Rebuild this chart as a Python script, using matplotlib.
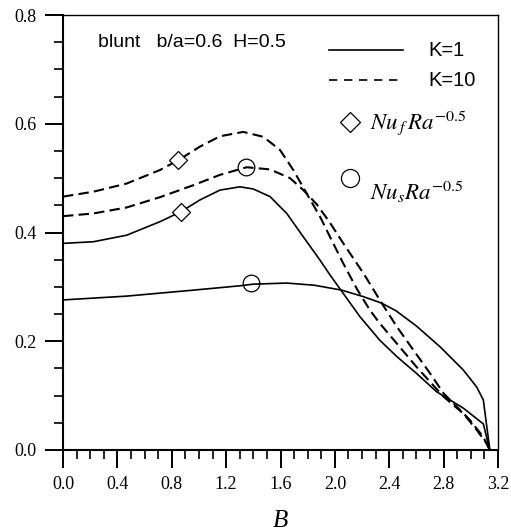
import matplotlib
matplotlib.use("Agg")
import matplotlib.pyplot as plt
from matplotlib.lines import Line2D

plt.rcParams['mathtext.fontset'] = 'stix'

# Nu_f Ra^-0.5, K=1 (solid)
b_f1 = [0, 0.223, 0.468, 0.714, 0.866, 1.008, 1.155, 1.302, 1.40, 1.523, 1.646, 1.768,
        1.891, 1.964, 2.05, 2.185, 2.33, 2.455, 2.60, 2.749, 2.945, 3.092, 3.14]
nu_f1 = [0.380, 0.383, 0.395, 0.420, 0.438, 0.460, 0.478, 0.484, 0.480, 0.466, 0.435, 0.392,
         0.349, 0.322, 0.292, 0.245, 0.202, 0.172, 0.141, 0.107, 0.077, 0.048, 0.0]

# Nu_s Ra^-0.5, K=1 (solid)
b_s1 = [0, 0.468, 0.959, 1.302, 1.40, 1.646, 1.85, 2.05, 2.21, 2.345, 2.45, 2.6, 2.773,
        2.945, 3.043, 3.092, 3.14]
nu_s1 = [0.276, 0.283, 0.294, 0.302, 0.305, 0.307, 0.303, 0.294, 0.282, 0.270, 0.256, 0.228,
         0.190, 0.147, 0.116, 0.092, 0.0]

# Nu_f Ra^-0.5, K=10 (dashed)
b_f10 = [0, 0.223, 0.468, 0.714, 0.848, 1.008, 1.155, 1.326, 1.473, 1.596, 1.694, 1.792,
         1.891, 1.964, 2.062, 2.16, 2.258, 2.33, 2.455, 2.60, 2.80, 2.945, 3.043, 3.117, 3.14]
nu_f10 = [0.466, 0.475, 0.490, 0.515, 0.533, 0.558, 0.577, 0.585, 0.576, 0.552, 0.515, 0.472,
          0.429, 0.392, 0.343, 0.297, 0.257, 0.233, 0.196, 0.153, 0.098, 0.067, 0.037, 0.012, 0.0]

# Nu_s Ra^-0.5, K=10 (dashed)
b_s10 = [0, 0.223, 0.468, 0.714, 0.959, 1.155, 1.351, 1.523, 1.670, 1.768, 1.866, 1.964,
         2.062, 2.21, 2.345, 2.455, 2.577, 2.70, 2.80, 2.896, 2.994, 3.092, 3.14]
nu_s10 = [0.430, 0.435, 0.446, 0.465, 0.487, 0.506, 0.520, 0.516, 0.500, 0.478, 0.452, 0.418,
          0.380, 0.325, 0.270, 0.227, 0.184, 0.141, 0.104, 0.080, 0.055, 0.024, 0.0]

# marker positions
diamond_b = [0.866, 0.848]
diamond_nu = [0.438, 0.533]
circle_b = [1.385, 1.345]
circle_nu = [0.307, 0.520]

fig = plt.figure(figsize=(5.11, 5.31), dpi=100)
ax = fig.add_axes([63/511, 81/531, 435/511, 435/531])

ax.plot(b_f1, nu_f1, color='black', lw=1.2)
ax.plot(b_s1, nu_s1, color='black', lw=1.2)
ax.plot(b_f10, nu_f10, color='black', lw=1.5, dashes=(5, 2.5))
ax.plot(b_s10, nu_s10, color='black', lw=1.5, dashes=(5, 2.5))

ax.plot(diamond_b, diamond_nu, ls='none', marker='D', ms=9.5, mfc='white', mec='black', mew=0.9)
ax.plot(circle_b, circle_nu, ls='none', marker='o', ms=12, mfc='none', mec='black', mew=0.9)

ax.set_xlim(0, 3.2)
ax.set_ylim(0, 0.8)
ax.set_xticks([0, 0.4, 0.8, 1.2, 1.6, 2.0, 2.4, 2.8, 3.2])
ax.set_xticks([i / 10 for i in range(33)], minor=True)
ax.set_yticks([0, 0.2, 0.4, 0.6, 0.8])
ax.set_yticks([i * 0.05 for i in range(17)], minor=True)
ax.set_xticklabels(['0.0', '0.4', '0.8', '1.2', '1.6', '2.0', '2.4', '2.8', '3.2'])
ax.set_yticklabels(['0.0', '0.2', '0.4', '0.6', '0.8'])

ax.tick_params(which='major', direction='out', length=13, width=1.4, labelsize=13, pad=6)
ax.tick_params(which='minor', direction='out', length=6.5, width=1.2)
for lab in ax.get_xticklabels() + ax.get_yticklabels():
    lab.set_family('Liberation Serif')

ax.spines['left'].set_linewidth(1.5)
ax.spines['bottom'].set_linewidth(1.5)
ax.spines['top'].set_linewidth(1.0)
ax.spines['right'].set_linewidth(1.0)

ax.set_xlabel('B', family='Liberation Serif', style='italic', fontsize=18, labelpad=12)

ax.text(0.08, 0.936, 'blunt   b/a=0.6  H=0.5', transform=ax.transAxes,
        family='Liberation Sans', fontsize=14, va='center')

ax.add_line(Line2D([0.611, 0.782], [0.92, 0.92], transform=ax.transAxes, color='black', lw=1.2))
ax.add_line(Line2D([0.611, 0.782], [0.851, 0.851], transform=ax.transAxes, color='black', lw=1.2,
                   dashes=(5, 4)))
ax.text(0.839, 0.918, 'K=1', transform=ax.transAxes, family='Liberation Sans', fontsize=14.5, va='center')
ax.text(0.839, 0.849, 'K=10', transform=ax.transAxes, family='Liberation Sans', fontsize=14.5, va='center')

ax.plot([0.66], [0.754], transform=ax.transAxes, marker='D', ms=10.5, mfc='white', mec='black', mew=0.9)
ax.plot([0.66], [0.625], transform=ax.transAxes, marker='o', ms=13, mfc='none', mec='black', mew=0.9)
ax.text(0.706, 0.752, r'$Nu_{\,f}\,Ra^{-0.5}$', transform=ax.transAxes, fontsize=16.5, va='center')
ax.text(0.706, 0.595, r'$Nu_{s}Ra^{-0.5}$', transform=ax.transAxes, fontsize=16.5, va='center')

fig.savefig('out.png', dpi=100)
